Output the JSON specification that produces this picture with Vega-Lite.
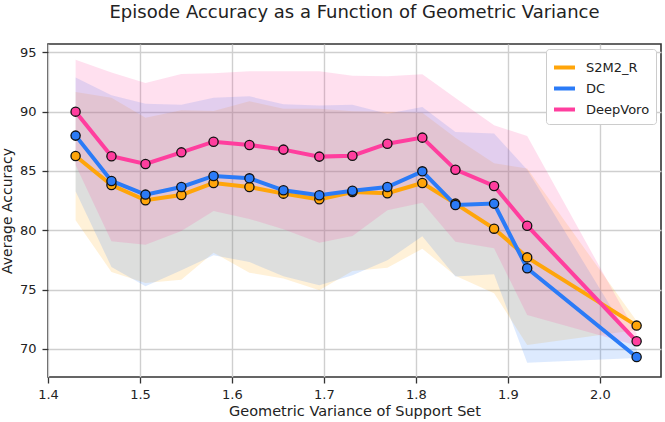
{
  "$schema": "https://vega.github.io/schema/vega-lite/v6.json",
  "autosize": {"type": "none"},
  "width": 613,
  "height": 333,
  "padding": {"left": 48, "top": 44, "right": 4, "bottom": 45},
  "title": {
    "text": "Episode Accuracy as a Function of Geometric Variance",
    "font": "DejaVu Sans",
    "fontSize": 18,
    "fontWeight": "normal",
    "color": "#222222",
    "anchor": "middle",
    "offset": 22
  },
  "data": {
    "values": [
      {"x": 1.430, "method": "S2M2_R", "acc": 86.26, "lo": 80.84, "hi": 91.66},
      {"x": 1.469, "method": "S2M2_R", "acc": 83.82, "lo": 76.49, "hi": 91.18},
      {"x": 1.506, "method": "S2M2_R", "acc": 82.53, "lo": 75.56, "hi": 89.49},
      {"x": 1.545, "method": "S2M2_R", "acc": 82.98, "lo": 75.84, "hi": 90.11},
      {"x": 1.580, "method": "S2M2_R", "acc": 83.99, "lo": 78.12, "hi": 90.06},
      {"x": 1.619, "method": "S2M2_R", "acc": 83.65, "lo": 76.43, "hi": 90.87},
      {"x": 1.656, "method": "S2M2_R", "acc": 83.09, "lo": 75.93, "hi": 90.25},
      {"x": 1.695, "method": "S2M2_R", "acc": 82.61, "lo": 74.94, "hi": 90.25},
      {"x": 1.731, "method": "S2M2_R", "acc": 83.23, "lo": 76.57, "hi": 90.03},
      {"x": 1.769, "method": "S2M2_R", "acc": 83.12, "lo": 76.85, "hi": 90.00},
      {"x": 1.807, "method": "S2M2_R", "acc": 83.99, "lo": 78.45, "hi": 89.90},
      {"x": 1.843, "method": "S2M2_R", "acc": 82.25, "lo": 76.18, "hi": 87.80},
      {"x": 1.885, "method": "S2M2_R", "acc": 80.14, "lo": 74.70, "hi": 85.65},
      {"x": 1.921, "method": "S2M2_R", "acc": 77.72, "lo": 70.34, "hi": 85.20},
      {"x": 2.040, "method": "S2M2_R", "acc": 71.97, "lo": 71.60, "hi": 72.35},
      {"x": 1.430, "method": "DC", "acc": 87.98, "lo": 83.30, "hi": 92.87},
      {"x": 1.469, "method": "DC", "acc": 84.16, "lo": 76.91, "hi": 91.38},
      {"x": 1.506, "method": "DC", "acc": 83.01, "lo": 75.28, "hi": 90.67},
      {"x": 1.545, "method": "DC", "acc": 83.65, "lo": 76.63, "hi": 90.59},
      {"x": 1.580, "method": "DC", "acc": 84.58, "lo": 77.89, "hi": 91.18},
      {"x": 1.619, "method": "DC", "acc": 84.38, "lo": 77.33, "hi": 91.29},
      {"x": 1.656, "method": "DC", "acc": 83.37, "lo": 76.12, "hi": 90.62},
      {"x": 1.695, "method": "DC", "acc": 82.95, "lo": 75.37, "hi": 90.51},
      {"x": 1.731, "method": "DC", "acc": 83.34, "lo": 76.21, "hi": 90.59},
      {"x": 1.769, "method": "DC", "acc": 83.65, "lo": 77.47, "hi": 89.83},
      {"x": 1.807, "method": "DC", "acc": 84.97, "lo": 79.49, "hi": 90.39},
      {"x": 1.843, "method": "DC", "acc": 82.13, "lo": 76.10, "hi": 88.29},
      {"x": 1.885, "method": "DC", "acc": 82.25, "lo": 76.30, "hi": 88.15},
      {"x": 1.921, "method": "DC", "acc": 76.80, "lo": 68.85, "hi": 85.10},
      {"x": 2.040, "method": "DC", "acc": 69.33, "lo": 69.25, "hi": 70.00},
      {"x": 1.430, "method": "DeepVoro", "acc": 90.00, "lo": 85.50, "hi": 94.38},
      {"x": 1.469, "method": "DeepVoro", "acc": 86.24, "lo": 79.07, "hi": 93.30},
      {"x": 1.506, "method": "DeepVoro", "acc": 85.59, "lo": 78.79, "hi": 92.42},
      {"x": 1.545, "method": "DeepVoro", "acc": 86.57, "lo": 79.94, "hi": 93.17},
      {"x": 1.580, "method": "DeepVoro", "acc": 87.47, "lo": 81.63, "hi": 93.23},
      {"x": 1.619, "method": "DeepVoro", "acc": 87.19, "lo": 80.96, "hi": 93.40},
      {"x": 1.656, "method": "DeepVoro", "acc": 86.80, "lo": 80.08, "hi": 93.40},
      {"x": 1.695, "method": "DeepVoro", "acc": 86.21, "lo": 78.96, "hi": 93.40},
      {"x": 1.731, "method": "DeepVoro", "acc": 86.29, "lo": 79.52, "hi": 93.03},
      {"x": 1.769, "method": "DeepVoro", "acc": 87.30, "lo": 81.69, "hi": 92.98},
      {"x": 1.807, "method": "DeepVoro", "acc": 87.81, "lo": 82.33, "hi": 93.15},
      {"x": 1.843, "method": "DeepVoro", "acc": 85.11, "lo": 79.04, "hi": 91.15},
      {"x": 1.885, "method": "DeepVoro", "acc": 83.74, "lo": 78.48, "hi": 88.85},
      {"x": 1.921, "method": "DeepVoro", "acc": 80.39, "lo": 72.87, "hi": 87.95},
      {"x": 2.040, "method": "DeepVoro", "acc": 70.65, "lo": 70.30, "hi": 71.30}
    ]
  },
  "encoding": {
    "x": {
      "field": "x",
      "type": "quantitative",
      "scale": {"domain": [1.4, 2.0665], "nice": false, "zero": false},
      "axis": {
        "title": "Geometric Variance of Support Set",
        "values": [1.4, 1.5, 1.6, 1.7, 1.8, 1.9, 2.0],
        "format": ".1f",
        "labelFlush": false,
        "labelPadding": 5,
        "titlePadding": 3
      }
    }
  },
  "layer": [
    {
      "mark": {"type": "area", "fillOpacity": 0.16},
      "encoding": {
        "y": {"field": "lo", "type": "quantitative"},
        "y2": {"field": "hi"},
        "fill": {
          "field": "method",
          "type": "nominal",
          "scale": {"range": ["#2b7bf7", "#ff3e9e", "#ffa50a"]},
          "legend": null
        }
      }
    },
    {
      "mark": {"type": "line", "strokeWidth": 4},
      "encoding": {
        "y": {
          "field": "acc",
          "type": "quantitative",
          "scale": {"domain": [67.64, 95.7], "nice": false, "zero": false},
          "axis": {
            "title": "Average Accuracy",
            "titleFontSize": 14,
            "values": [70, 75, 80, 85, 90, 95],
            "labelPadding": 6,
            "titlePadding": 5
          }
        },
        "stroke": {
          "field": "method",
          "type": "nominal",
          "title": null,
          "scale": {"domain": ["S2M2_R", "DC", "DeepVoro"], "range": ["#ffa50a", "#2b7bf7", "#ff3e9e"]},
          "legend": {
            "orient": "top-right",
            "offset": 5,
            "symbolType": "stroke",
            "symbolSize": 440,
            "symbolStrokeWidth": 4,
            "labelFontSize": 13,
            "labelFont": "DejaVu Sans",
            "labelColor": "#222222",
            "labelOffset": 9,
            "rowPadding": 0,
            "padding": 6,
            "fillColor": "white",
            "strokeColor": "#cccccc",
            "cornerRadius": 3
          }
        }
      }
    },
    {
      "mark": {"type": "point", "filled": true, "size": 85, "stroke": "#111111", "strokeWidth": 1.3, "opacity": 1},
      "encoding": {
        "y": {"field": "acc", "type": "quantitative"},
        "fill": {"field": "method", "type": "nominal", "legend": null}
      }
    }
  ],
  "config": {
    "view": {"stroke": "#333333", "strokeWidth": 1.6},
    "axis": {
      "domain": false,
      "grid": true,
      "gridColor": "#cfcfcf",
      "gridWidth": 1.4,
      "tickColor": "#333333",
      "tickSize": 6,
      "tickWidth": 1.3,
      "labelFont": "DejaVu Sans",
      "labelFontSize": 13,
      "labelColor": "#222222",
      "titleFont": "DejaVu Sans",
      "titleFontSize": 14.5,
      "titleFontWeight": "normal",
      "titleColor": "#222222"
    }
  }
}
